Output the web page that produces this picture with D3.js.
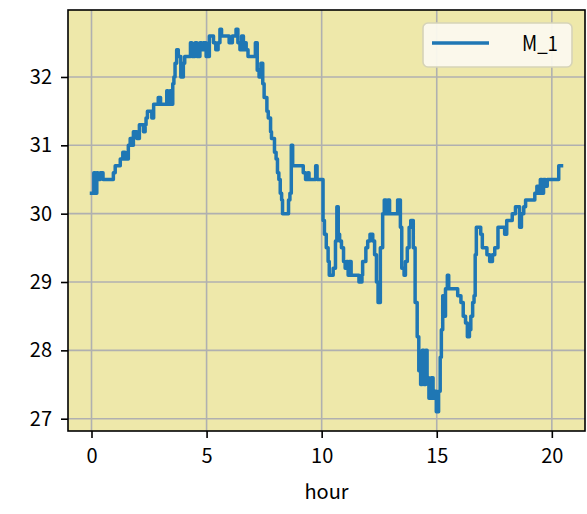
<!DOCTYPE html>
<html>
<head>
<meta charset="utf-8">
<script src="https://cdn.jsdelivr.net/npm/d3@7"></script>
<style>
  body { margin: 0; background: #fff; }
  svg { display: block; }
  .tick text { font-family: "Noto Sans CJK JP", "DejaVu Sans", sans-serif; font-size: 20px; fill: #000; }
</style>
</head>
<body>
<div id="chart"></div>
<script>
// hours at which the reading changes, and the reading from then on
var hours = [0.00, 0.10, 0.16, 0.23, 0.28, 0.38, 0.50, 0.95, 1.03, 1.25, 1.36, 1.46, 1.60, 1.68, 1.74, 1.82, 1.97, 2.08, 2.26, 2.33,
  2.37, 2.43, 2.62, 2.70, 2.90, 3.00, 3.27, 3.32, 3.41, 3.49, 3.53, 3.58, 3.63, 3.70, 3.77, 3.88, 3.99, 4.05, 4.30, 4.36,
  4.50, 4.58, 4.71, 4.78, 4.86, 4.98, 5.12, 5.30, 5.40, 5.50, 5.58, 5.65, 5.98, 6.12, 6.28, 6.36, 6.45, 6.52, 6.60, 6.66,
  6.72, 6.80, 7.12, 7.20, 7.28, 7.36, 7.44, 7.50, 7.62, 7.68, 7.78, 7.82, 7.95, 8.02, 8.08, 8.14, 8.20, 8.26, 8.30, 8.56,
  8.62, 8.68, 8.74, 9.20, 9.30, 9.40, 9.45, 9.74, 9.80, 10.06, 10.12, 10.20, 10.28, 10.33, 10.50, 10.60, 10.66, 10.72, 10.78, 10.86,
  10.95, 11.02, 11.08, 11.15, 11.20, 11.28, 11.62, 11.75, 11.78, 11.92, 12.00, 12.10, 12.22, 12.30, 12.38, 12.45, 12.55, 12.65, 12.72, 12.80,
  12.88, 12.95, 13.30, 13.42, 13.48, 13.58, 13.64, 13.72, 13.80, 13.87, 13.98, 14.06, 14.15, 14.22, 14.30, 14.37, 14.44, 14.52, 14.58, 14.66,
  14.76, 14.84, 14.92, 14.98, 15.08, 15.15, 15.20, 15.26, 15.32, 15.38, 15.46, 15.52, 15.91, 16.05, 16.15, 16.25, 16.33, 16.42, 16.48, 16.56,
  16.62, 16.67, 16.72, 16.91, 16.98, 17.18, 17.30, 17.42, 17.52, 17.66, 17.95, 18.04, 18.28, 18.42, 18.60, 18.68, 18.78, 18.86, 19.26, 19.35,
  19.44, 19.50, 19.58, 19.64, 19.72, 19.80, 20.30, 20.42];

var m1 = [30.3, 30.6, 30.3, 30.6, 30.5, 30.6, 30.5, 30.6, 30.7, 30.8, 30.9, 30.8, 31.0, 31.1, 31.0, 31.2, 31.1, 31.3, 31.2, 31.3,
  31.4, 31.5, 31.4, 31.6, 31.7, 31.6, 31.8, 31.6, 31.8, 31.6, 31.9, 32.0, 32.2, 32.4, 32.3, 32.0, 32.2, 32.3, 32.5, 32.3,
  32.5, 32.3, 32.5, 32.4, 32.5, 32.3, 32.6, 32.5, 32.4, 32.5, 32.7, 32.6, 32.5, 32.6, 32.7, 32.5, 32.4, 32.6, 32.4, 32.5,
  32.4, 32.3, 32.5, 32.1, 32.0, 32.2, 31.9, 31.7, 31.5, 31.4, 31.2, 31.1, 30.9, 30.8, 30.6, 30.5, 30.3, 30.2, 30.0, 30.2,
  30.3, 31.0, 30.7, 30.6, 30.5, 30.6, 30.5, 30.7, 30.5, 29.9, 29.7, 29.5, 29.3, 29.1, 29.2, 29.6, 30.1, 29.7, 29.6, 29.5,
  29.3, 29.2, 29.3, 29.1, 29.3, 29.1, 29.0, 29.1, 29.3, 29.5, 29.6, 29.7, 29.6, 29.4, 29.0, 28.7, 29.5, 30.0, 30.2, 30.0,
  30.2, 30.0, 30.2, 29.8, 29.2, 29.1, 29.3, 29.5, 29.8, 29.9, 29.5, 28.7, 28.2, 27.7, 27.5, 28.0, 27.5, 28.0, 27.6, 27.3,
  27.6, 27.3, 27.4, 27.1, 27.4, 27.9, 28.3, 28.8, 28.5, 28.9, 29.1, 28.9, 28.8, 28.7, 28.5, 28.4, 28.2, 28.3, 28.5, 28.7,
  28.8, 29.4, 29.8, 29.7, 29.5, 29.4, 29.3, 29.4, 29.5, 29.8, 29.7, 29.9, 30.0, 30.1, 29.8, 30.0, 30.1, 30.2, 30.3, 30.4,
  30.3, 30.5, 30.3, 30.5, 30.4, 30.5, 30.7, 30.7];

var xTicks = [0, 5, 10, 15, 20];
var yTicks = [27, 28, 29, 30, 31, 32];
var seriesName = "M_1";
var xLabel = "hour";

var width = 587,
    height = 514;
var margin = {left: 68, right: 2, top: 10, bottom: 83};

var svg = d3.select("#chart").append("svg")
    .attr("width", width)
    .attr("height", height);

var data = hours.map(function(h, i) { return {h: h, v: m1[i]}; });

// matplotlib style 5% padding around the data
var xExt = d3.extent(hours), yExt = d3.extent(m1);
var xPad = (xExt[1] - xExt[0]) * 0.05, yPad = (yExt[1] - yExt[0]) * 0.05;

var x = d3.scaleLinear()
    .domain([xExt[0] - xPad, xExt[1] + xPad])
    .range([margin.left, width - margin.right]);

var y = d3.scaleLinear()
    .domain([yExt[0] - yPad, yExt[1] + yPad])
    .range([height - margin.bottom, margin.top]);

// plot background
svg.append("rect")
    .attr("x", margin.left)
    .attr("y", margin.top)
    .attr("width", width - margin.left - margin.right)
    .attr("height", height - margin.top - margin.bottom)
    .attr("fill", "#eee8aa");

// grid
svg.append("g").selectAll("line.gx")
    .data(xTicks).enter().append("line")
    .attr("x1", function(d) { return x(d); })
    .attr("x2", function(d) { return x(d); })
    .attr("y1", margin.top)
    .attr("y2", height - margin.bottom)
    .attr("stroke", "#b0b0b0")
    .attr("stroke-width", 1.6);

svg.append("g").selectAll("line.gy")
    .data(yTicks).enter().append("line")
    .attr("y1", function(d) { return y(d); })
    .attr("y2", function(d) { return y(d); })
    .attr("x1", margin.left)
    .attr("x2", width - margin.right)
    .attr("stroke", "#b0b0b0")
    .attr("stroke-width", 1.6);

// the series
var line = d3.line()
    .x(function(d) { return x(d.h); })
    .y(function(d) { return y(d.v); })
    .curve(d3.curveStepAfter);

svg.append("path")
    .datum(data)
    .attr("d", line)
    .attr("fill", "none")
    .attr("stroke", "#1f77b4")
    .attr("stroke-width", 3.5)
    .attr("stroke-linejoin", "round")
    .attr("stroke-linecap", "square");

// axes
var xAxis = d3.axisBottom(x).tickValues(xTicks).tickSize(7).tickPadding(11).tickFormat(d3.format("d"));
var yAxis = d3.axisLeft(y).tickValues(yTicks).tickSize(7).tickPadding(9).tickFormat(d3.format("d"));

var gx = svg.append("g")
    .attr("transform", "translate(0," + (height - margin.bottom) + ")")
    .call(xAxis);
var gy = svg.append("g")
    .attr("transform", "translate(" + margin.left + ",0)")
    .call(yAxis);

[gx, gy].forEach(function(g) {
    g.select(".domain").remove();
    g.selectAll(".tick line").attr("stroke", "#000").attr("stroke-width", 1.6);
});

// frame
svg.append("rect")
    .attr("x", margin.left)
    .attr("y", margin.top)
    .attr("width", width - margin.left - margin.right)
    .attr("height", height - margin.top - margin.bottom)
    .attr("fill", "none")
    .attr("stroke", "#000")
    .attr("stroke-width", 1.6);

svg.append("text")
    .attr("x", (margin.left + width - margin.right) / 2)
    .attr("y", 499)
    .attr("text-anchor", "middle")
    .style("font-family", '"Noto Sans CJK JP", "DejaVu Sans", sans-serif')
    .style("font-size", "20px")
    .text(xLabel);

// legend
var legend = svg.append("g").attr("transform", "translate(423,23)");
legend.append("rect")
    .attr("width", 149)
    .attr("height", 44)
    .attr("rx", 5)
    .attr("fill", "#fbf9ee")
    .attr("fill-opacity", 0.95)
    .attr("stroke", "#d6d3b8")
    .attr("stroke-width", 1.6);
legend.append("line")
    .attr("x1", 9).attr("x2", 66)
    .attr("y1", 20).attr("y2", 20)
    .attr("stroke", "#1f77b4")
    .attr("stroke-width", 3.5);
legend.append("text")
    .attr("x", 99)
    .attr("y", 28)
    .attr("textLength", 36)
    .attr("lengthAdjust", "spacingAndGlyphs")
    .style("font-family", '"Noto Sans CJK JP", "DejaVu Sans", sans-serif')
    .style("font-size", "21px")
    .text(seriesName);
</script>
</body>
</html>
